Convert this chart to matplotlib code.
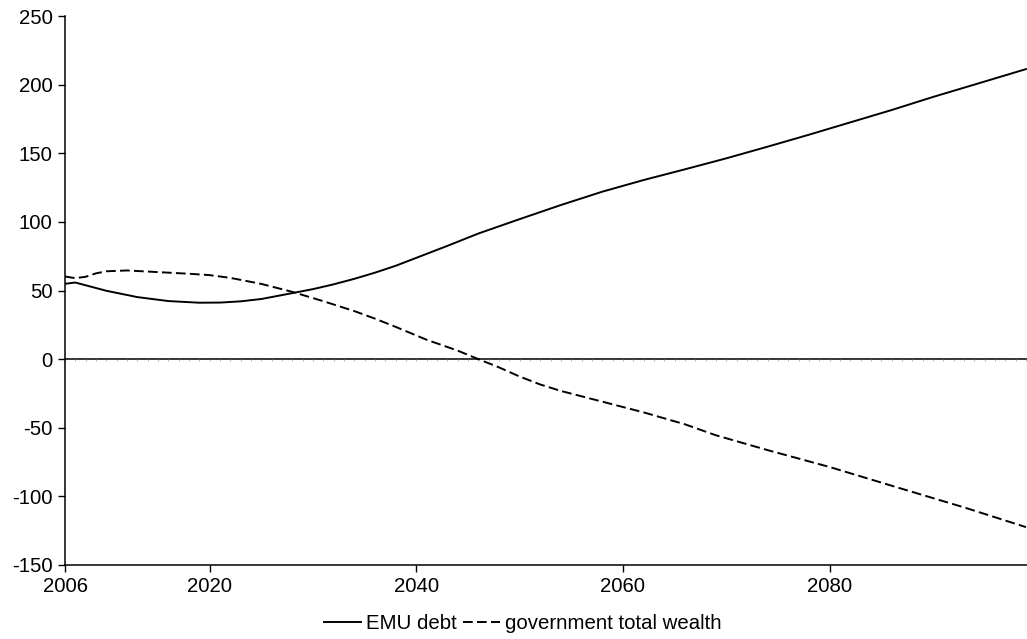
import matplotlib
matplotlib.use("Agg")
import matplotlib.pyplot as plt
from matplotlib.lines import TICKDOWN
import numpy as np

plt.rcParams['font.family'] = ['Liberation Sans', 'DejaVu Sans']
plt.rcParams['axes.unicode_minus'] = False

# EMU debt (solid)
debt_years = [2006, 2007, 2010, 2013, 2016, 2019, 2021, 2023, 2025, 2028, 2030,
              2032, 2034, 2036, 2038, 2040, 2043, 2046, 2050, 2054, 2058, 2062,
              2066, 2070, 2074, 2078, 2082, 2086, 2090, 2094, 2099]
debt_values = [54.9, 55.8, 49.8, 45.2, 42.3, 41.1, 41.2, 42.1, 43.8, 48.1, 51.0,
               54.5, 58.5, 63.0, 68.0, 73.8, 82.5, 91.5, 102.0, 112.3, 122.0, 130.5,
               138.3, 146.3, 154.8, 163.5, 172.5, 181.5, 191.0, 200.0, 211.3]

# government total wealth (dashed)
wealth_years = [2006, 2007, 2008, 2009, 2010, 2012, 2015, 2018, 2020, 2022, 2025,
                2028, 2031, 2034, 2036, 2038, 2041, 2044, 2046, 2048, 2050, 2052,
                2054, 2058, 2062, 2066, 2069, 2074, 2080, 2087, 2093, 2099]
wealth_values = [60.2, 59.0, 60.0, 62.5, 64.0, 64.6, 63.4, 62.2, 61.2, 59.2, 54.8,
                 49.0, 42.2, 35.0, 29.5, 23.5, 14.1, 6.2, 0.0, -6.0, -12.7, -18.5,
                 -23.2, -31.0, -38.8, -47.5, -55.5, -66.3, -78.6, -94.5, -108.0, -122.4]

x_ticks = [2006, 2020, 2040, 2060, 2080]
y_ticks = [-150, -100, -50, 0, 50, 100, 150, 200, 250]

fig = plt.figure(figsize=(10.27, 6.39), dpi=100)
ax = fig.add_axes([65 / 1027, 1 - 565 / 639, 962 / 1027, 549 / 639])

ax.axhline(0, color='black', lw=1.1, zorder=1)
yrs = np.arange(2006, 2100)
ax.plot(yrs, np.zeros_like(yrs, dtype=float), ls='none', marker=TICKDOWN,
        markersize=1.5, color='0.6', mew=0.5, zorder=1)

ax.plot(debt_years, debt_values, color='black', lw=1.4, label='EMU debt',
        solid_joinstyle='round', zorder=3)
ax.plot(wealth_years, wealth_values, color='black', lw=1.4,
        dashes=(5, 2.2), label='government total wealth', zorder=3)

ax.set_xlim(2006, 2099.1)
ax.set_ylim(-150, 250)
ax.set_xticks(x_ticks)
ax.set_yticks(y_ticks)
ax.tick_params(axis='both', direction='out', length=5, width=1, color='black',
               labelsize=14.7, pad=4)
for s in ['top', 'right']:
    ax.spines[s].set_visible(False)
for s in ['left', 'bottom']:
    ax.spines[s].set_linewidth(1.1)

fig.legend(loc='center', bbox_to_anchor=(0.509, 0.0235), ncol=2, frameon=False,
           fontsize=14.7, handlelength=1.8, handletextpad=0.25, columnspacing=0.3,
           borderpad=0, borderaxespad=0)

fig.savefig('out.png', dpi=100)
